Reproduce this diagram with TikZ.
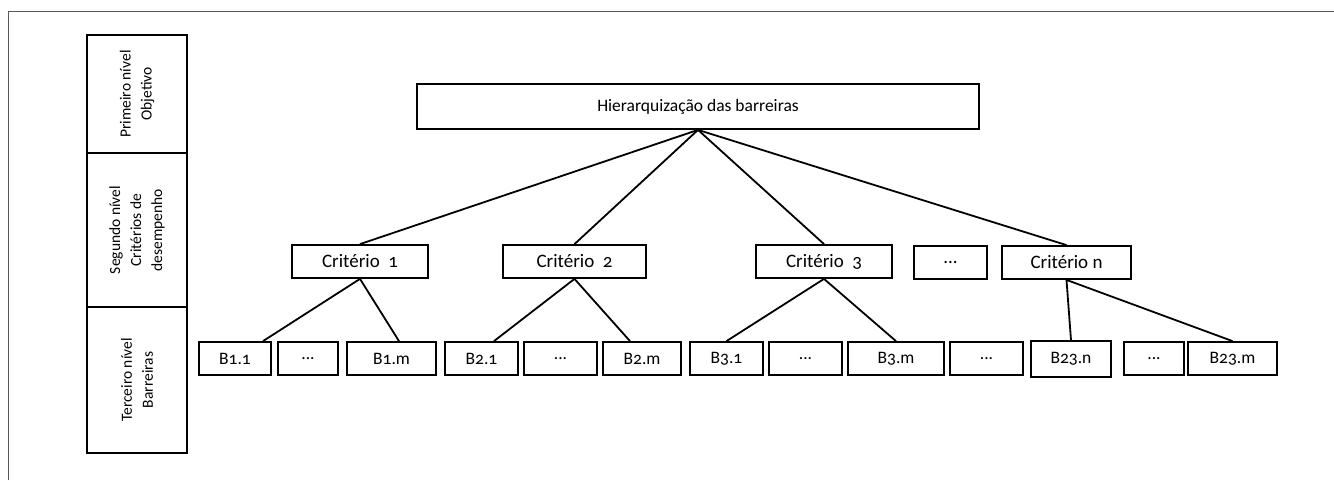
\documentclass[tikz,border=0pt]{standalone}
\usepackage{fontspec}
\setmainfont{Carlito}[Numbers=OldStyle]
\tikzset{box/.style={draw, line width=1.8pt, inner sep=0pt, minimum height=33pt, font=\fontsize{17.5}{20}\selectfont}}
\tikzset{crit/.style={box, font=\fontsize{19}{22}\selectfont}}
\tikzset{lvl/.style={draw, line width=1.8pt, rotate=90, inner sep=0pt, minimum height=100pt, align=center, font=\fontsize{15.5}{21}\selectfont}}
\tikzset{edge/.style={line width=1.8pt}}
\tikzset{frm/.style={line width=0.9pt, color=black!65}}

\begin{document}
\begin{tikzpicture}[x=1pt, y=-1pt]
        \useasboundingbox (0,0) rectangle (1334,480);
        \coordinate (fa) at (8,480);
        \coordinate (fb) at (8,11);
        \coordinate (fc) at (1334,11);
        \draw [frm] (fa) -- (fb) -- (fc);

        % levels
        \node[lvl, minimum width=118pt] (L1) at (137,94) {Primeiro nível\\Objetivo};
        \node[lvl, minimum width=154pt] (L2) at (137,230) {Segundo nível\\Critérios de\\desempenho};
        \node[lvl, minimum width=146pt] (L3) at (137,380) {Terceiro nível\\Barreiras};

        \node[box, minimum width=562pt, minimum height=45pt, font=\fontsize{17.5}{20}\selectfont] (H) at (698,106.5) {Hierarquização das barreiras};

        \node[crit, minimum width=136pt] (C1) at (360,261.5) {Critério~ 1};
        \node[crit, minimum width=143pt] (C2) at (574.5,261.5) {Critério~ 2};
        \node[crit, minimum width=136pt] (C3) at (824,261.5) {Critério~ 3};
        \node[crit, minimum width=73pt] (Cd) at (950.5,262.5) {...};
        \node[crit, minimum width=129pt] (Cn) at (1066.5,262.5) {Critério n};

        \node[box, minimum width=72pt] (B11) at (235,358.5) {B1.1};
        \node[box, minimum width=60pt] (D1) at (308,358.5) {...};
        \node[box, minimum width=89pt] (B1m) at (391.5,358.5) {B1.m};
        \node[box, minimum width=73pt] (B21) at (481.5,358.5) {B2.1};
        \node[box, minimum width=73pt] (D2) at (560.5,358.5) {...};
        \node[box, minimum width=78pt] (B2m) at (642,358.5) {B2.m};
        \node[box, minimum width=73pt] (B31) at (726.5,358.5) {B3.1};
        \node[box, minimum width=73pt] (D3) at (805.5,358.5) {...};
        \node[box, minimum width=96pt] (B3m) at (896,358.5) {B3.m};
        \node[box, minimum width=73pt] (D4) at (986.5,358.5) {...};
        \node[box, minimum width=80pt, minimum height=36pt] (B23n) at (1071,359) {B23.n};
        \node[box, minimum width=60pt] (D5) at (1154,358.5) {...};
        \node[box, minimum width=89pt] (B23m) at (1232.5,358.5) {B23.m};

        \draw [edge] (H.south) -- (C1.north);
        \draw [edge] (H.south) -- (C2.north);
        \draw [edge] (H.south) -- (C3.north);
        \draw [edge] (H.south) -- (Cn.north);

        \draw [edge] (C1.south) -- ([xshift=28pt]B11.north);
        \draw [edge] (C1.south) -- ([xshift=7.5pt]B1m.north);
        \draw [edge] (C2.south) -- ([xshift=12.5pt]B21.north);
        \draw [edge] (C2.south) -- ([xshift=-12pt]B2m.north);
        \draw [edge] (C3.south) -- (B31.north);
        \draw [edge] (C3.south) -- (B3m.north);
        \draw [edge] (Cn.south) -- (B23n.north);
        \draw [edge] (Cn.south) -- (B23m.north);

   \end{tikzpicture}
\end{document}
